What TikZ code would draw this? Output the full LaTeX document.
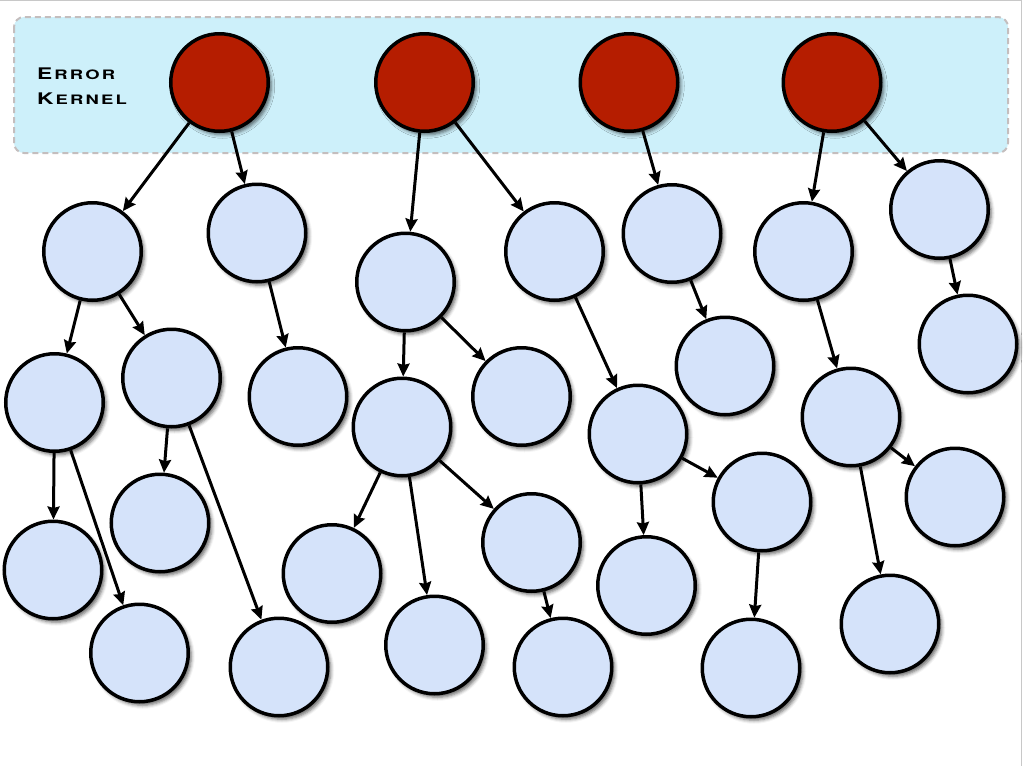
\documentclass[tikz,border=0pt]{standalone}
\usepackage{fontspec}
\newfontfamily\herosfont{TeX Gyre Heros}
\usetikzlibrary{arrows.meta,shadows.blur}
\definecolor{kernelbg}{RGB}{205,240,250}
\definecolor{kernelred}{RGB}{181,29,0}
\definecolor{actorblue}{RGB}{213,227,250}
\definecolor{framegray}{RGB}{200,200,200}
\definecolor{dashgray}{RGB}{196,190,190}
\newcommand{\bigL}[1]{{\fontsize{16pt}{16pt}\selectfont #1}}
\newcommand{\smL}[1]{{\fontsize{13pt}{13pt}\selectfont #1}}
\tikzset{
  actor/.style={circle, draw=black, line width=3.5pt, minimum size=97.5pt, inner sep=0pt,
    blur shadow={shadow xshift=3pt, shadow yshift=-3.5pt, shadow blur radius=3.5pt, shadow opacity=60}},
  kernelnode/.style={actor, fill=kernelred},
  worker/.style={actor, fill=actorblue},
  link/.style={line width=3pt, -{Stealth[length=13pt,width=12pt,inset=1.5pt]}},
  zone/.style={fill=kernelbg, draw=dashgray, line width=2pt, dash pattern=on 6pt off 4pt, rounded corners=10pt},
  zonelabel/.style={anchor=base west, inner sep=0pt, font=\herosfont\bfseries}
}
\begin{document}
\begin{tikzpicture}[x=1pt,y=-1pt]
\useasboundingbox (0,0) rectangle (1023,766);
\draw[framegray, line width=1pt] (0,0.5) -- (1021,0.5) -- (1021,766);
\path[zone] (14,17) rectangle (1008,153);
\node[zonelabel] (lab1) at (37,79) {\scalebox{1.42}[1]{\bigL{E}\kern1.5pt\smL{R\kern1.5pt R\kern1.5pt O\kern1.5pt R}}};
\node[zonelabel] (lab2) at (37,104) {\scalebox{1.42}[1]{\bigL{K}\kern1.5pt\smL{E\kern1.5pt R\kern1.5pt N\kern1.5pt E\kern1.5pt L}}};
% kernel
\node[kernelnode] (k1) at (219.5,82.5) {};
\node[kernelnode] (k2) at (424.5,82.5) {};
\node[kernelnode] (k3) at (629,82.5) {};
\node[kernelnode] (k4) at (832,82.5) {};
% workers
\node[worker] (a) at (92.5,251.5) {};
\node[worker] (b) at (257,233) {};
\node[worker] (c) at (54.5,402.5) {};
\node[worker] (d) at (171.5,378) {};
\node[worker] (e) at (298,396.5) {};
\node[worker] (f) at (160,523) {};
\node[worker] (g) at (53,570) {};
\node[worker] (h) at (139.5,653) {};
\node[worker] (i) at (279,667) {};
\node[worker] (j) at (405.5,282) {};
\node[worker] (kk) at (554.5,251.5) {};
\node[worker] (l) at (402,427) {};
\node[worker] (m) at (521.5,396.5) {};
\node[worker] (n) at (332,573.5) {};
\node[worker] (o) at (434.5,645) {};
\node[worker] (p) at (531.5,542.5) {};
\node[worker] (q) at (563,667) {};
\node[worker] (r) at (672,233.5) {};
\node[worker] (s) at (725,366) {};
\node[worker] (t) at (638,434) {};
\node[worker] (u) at (762,502) {};
\node[worker] (v) at (646.5,585.5) {};
\node[worker] (w) at (751,668) {};
\node[worker] (x) at (803.5,251.5) {};
\node[worker] (y) at (939.5,209.5) {};
\node[worker] (z) at (968,344) {};
\node[worker] (aa) at (851,417) {};
\node[worker] (bb) at (955,497) {};
\node[worker] (cc) at (890,624) {};
% links
\foreach \s/\t in {k1/a,k1/b,a/c,a/d,b/e,c/g,c/h,d/f,d/i,
  k2/j,k2/kk,j/l,j/m,l/n,l/o,l/p,p/q,kk/t,
  k3/r,r/s,t/u,t/v,u/w,
  k4/x,k4/y,y/z,x/aa,aa/bb,aa/cc}
  \draw[link] (\s) -- (\t);
\end{tikzpicture}
\end{document}
